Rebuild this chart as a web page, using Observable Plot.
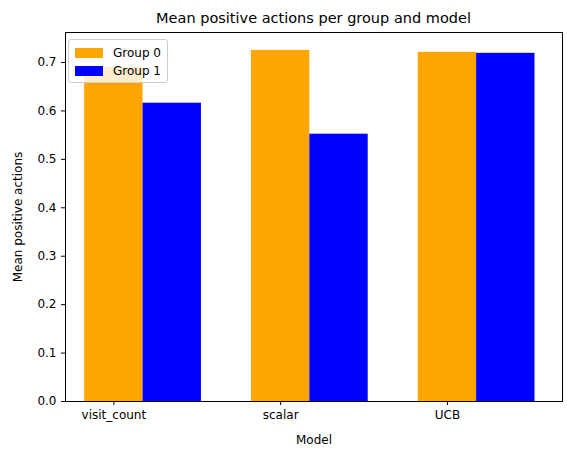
<!DOCTYPE html>
<html><head><meta charset="utf-8">
<script src="https://cdn.jsdelivr.net/npm/d3@7"></script>
<script src="https://cdn.jsdelivr.net/npm/@observablehq/plot@0.6"></script>
<style>
body{margin:0;font-family:"DejaVu Sans",sans-serif;background:#fff}
#wrap{position:relative;width:567px;height:455px}
#title{position:absolute;left:65px;width:497px;top:10px;text-align:center;font-size:14.5px}
#legend{position:absolute;left:68px;top:39px;width:100px;height:44px;border:1px solid #ccc;border-radius:3px;background:rgba(255,255,255,0.8);font-size:12px;box-sizing:border-box;padding:4px 6px}
#legend div{display:flex;align-items:center;height:18px}
#legend span{display:inline-block;width:28px;height:10px;margin-right:10px}
</style></head>
<body><div id="wrap"><div id="title">Mean positive actions per group and model</div><div id="graph"></div><div id="legend"></div></div>
<script>
const models = ["visit_count", "scalar", "UCB"];
const groups = ["Group 0", "Group 1"];
const colors = ["orange", "blue"];
const group0 = [0.690, 0.725, 0.721];
const group1 = [0.616, 0.552, 0.719];
const w = 0.35;

const data = [];
models.forEach((m, i) => {
	data.push({x1: i - w/2, x2: i + w/2, y: group0[i], g: groups[0]});
	data.push({x1: i + w/2, x2: i + 1.5*w, y: group1[i], g: groups[1]});
});

let chart = Plot.plot({
	width: 567,
	height: 455,
	marginTop: 32,
	marginBottom: 54,
	marginLeft: 65,
	marginRight: 5,
	style: {fontFamily: "DejaVu Sans", fontSize: "12px", color: "#000"},
	x: {domain: [-0.29, 2.69], ticks: [0, 1, 2], tickFormat: d => models[d], label: "Model", labelAnchor: "center", labelArrow: "none", labelOffset: 42, tickSize: 4},
	y: {domain: [0, 0.762], ticks: d3.range(0, 0.75, 0.1), tickFormat: d3.format(".1f"), label: "Mean positive actions", labelAnchor: "center", labelArrow: "none", labelOffset: 52, tickSize: 4},
	color: {domain: groups, range: colors},
	marks: [
		Plot.rectY(data, {x1: "x1", x2: "x2", y: "y", fill: "g"}),
		Plot.frame({stroke: "#000"})
	]
});
d3.select("#graph").append(() => chart);

const lg = d3.select("#legend");
groups.forEach((g, i) => {
	const row = lg.append("div");
	row.append("span").style("background", colors[i]);
	row.append("text").text(g);
});
</script></body></html>
